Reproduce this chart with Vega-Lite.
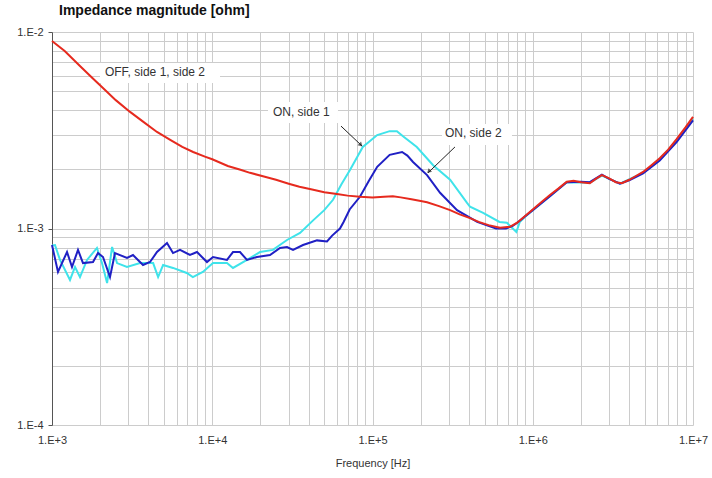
{
  "$schema": "https://vega.github.io/schema/vega-lite/v6.json",
  "width": 641,
  "height": 393,
  "autosize": {"type": "none"},
  "padding": {"left": 52, "top": 32, "right": 19, "bottom": 53},
  "config": {"view": {"stroke": null}, "font": "Liberation Sans"},
  "title": {"text": "Impedance magnitude [ohm]", "anchor": "start", "frame": "group", "dx": 7, "dy": 16, "offset": 13, "baseline": "alphabetic", "fontSize": 14, "fontWeight": "bold", "font": "Liberation Sans", "color": "#111"},
  "datasets": {
    "red": [
      {"f":1000,"z":0.0090},{"f":1200,"z":0.0080},{"f":1500,"z":0.0067},{"f":1800,"z":0.0058},{"f":2080,"z":0.00519},
      {"f":2500,"z":0.0045},{"f":3070,"z":0.00392},{"f":3700,"z":0.0035},{"f":4520,"z":0.0031},{"f":5500,"z":0.00282},
      {"f":6500,"z":0.0026},{"f":7600,"z":0.00245},{"f":9000,"z":0.00232},{"f":10000,"z":0.00225},{"f":12500,"z":0.00208},
      {"f":15000,"z":0.00199},{"f":17200,"z":0.00192},{"f":21000,"z":0.00184},{"f":25000,"z":0.00177},{"f":30000,"z":0.00169},
      {"f":35000,"z":0.00163},{"f":42000,"z":0.00158},{"f":50000,"z":0.00153},{"f":60000,"z":0.0015},{"f":70000,"z":0.00147},
      {"f":83500,"z":0.00145},{"f":100000,"z":0.00144},{"f":118000,"z":0.00145},{"f":134000,"z":0.00146},{"f":150000,"z":0.00144},
      {"f":175000,"z":0.00141},{"f":200000,"z":0.00138},{"f":219000,"z":0.00136},{"f":260000,"z":0.0013},{"f":305000,"z":0.00124},
      {"f":350000,"z":0.00118},{"f":406000,"z":0.00113},{"f":460000,"z":0.00108},{"f":530000,"z":0.00104},{"f":625000,"z":0.00101},
      {"f":720000,"z":0.00102},{"f":800000,"z":0.00107},{"f":900000,"z":0.00116},{"f":1000000,"z":0.00125},{"f":1130000,"z":0.00136},
      {"f":1280000,"z":0.00148},{"f":1450000,"z":0.0016},{"f":1630000,"z":0.00173},{"f":1800000,"z":0.00175},{"f":2000000,"z":0.00172},
      {"f":2270000,"z":0.0017},{"f":2500000,"z":0.0018},{"f":2700000,"z":0.00187},{"f":3000000,"z":0.0018},{"f":3300000,"z":0.00172},
      {"f":3600000,"z":0.0017},{"f":4000000,"z":0.00177},{"f":4400000,"z":0.00185},{"f":4880000,"z":0.00194},{"f":5500000,"z":0.0021},
      {"f":6200000,"z":0.00228},{"f":7000000,"z":0.00252},{"f":7900000,"z":0.00285},{"f":9000000,"z":0.00328},{"f":10000000,"z":0.0037}
    ],
    "blue": [
      {"f":1000,"z":0.000824},{"f":1090,"z":0.000601},{"f":1241,"z":0.000759},{"f":1333,"z":0.000637},{"f":1453,"z":0.000778},
      {"f":1561,"z":0.000667},{"f":1803,"z":0.000675},{"f":1936,"z":0.00075},{"f":2081,"z":0.000716},{"f":2301,"z":0.000566},
      {"f":2472,"z":0.00075},{"f":2937,"z":0.000708},{"f":3202,"z":0.000733},{"f":3698,"z":0.000652},{"f":4088,"z":0.000675},
      {"f":4520,"z":0.000759},{"f":5220,"z":0.000844},{"f":5690,"z":0.00075},{"f":6293,"z":0.000778},{"f":7262,"z":0.000733},
      {"f":8032,"z":0.000759},{"f":9270,"z":0.000675},{"f":10108,"z":0.000716},{"f":12360,"z":0.000692},{"f":13470,"z":0.000759},
      {"f":14900,"z":0.000759},{"f":16470,"z":0.000692},{"f":19010,"z":0.000716},{"f":22930,"z":0.000733},{"f":26470,"z":0.000796},
      {"f":29270,"z":0.000805},{"f":31920,"z":0.000778},{"f":36840,"z":0.000824},{"f":45050,"z":0.00087},{"f":52000,"z":0.00086},
      {"f":56000,"z":0.00092},{"f":62660,"z":0.001},{"f":66000,"z":0.00108},{"f":72000,"z":0.00125},{"f":83500,"z":0.00145},
      {"f":95000,"z":0.00175},{"f":107000,"z":0.00206},{"f":128000,"z":0.00237},{"f":153000,"z":0.00245},{"f":165000,"z":0.00235},
      {"f":179000,"z":0.00218},{"f":219000,"z":0.00187},{"f":264000,"z":0.00152},{"f":337000,"z":0.00124},{"f":450000,"z":0.00108},
      {"f":590000,"z":0.001},{"f":680000,"z":0.001},{"f":750000,"z":0.00103},{"f":800000,"z":0.00107},{"f":1000000,"z":0.00124},
      {"f":1280000,"z":0.00146},{"f":1630000,"z":0.00172},{"f":2000000,"z":0.00173},{"f":2270000,"z":0.00172},{"f":2700000,"z":0.00188},
      {"f":3000000,"z":0.00179},{"f":3500000,"z":0.00169},{"f":4000000,"z":0.00176},{"f":4880000,"z":0.00191},{"f":6200000,"z":0.00222},
      {"f":7900000,"z":0.00275},{"f":10000000,"z":0.00355}
    ],
    "cyan": [
      {"f":1000,"z":0.00082},{"f":1044,"z":0.000824},{"f":1122,"z":0.000692},{"f":1295,"z":0.000547},{"f":1392,"z":0.000637},
      {"f":1495,"z":0.000566},{"f":1654,"z":0.000692},{"f":1908,"z":0.000796},{"f":2051,"z":0.000667},{"f":2207,"z":0.000528},
      {"f":2371,"z":0.000805},{"f":2546,"z":0.000667},{"f":2937,"z":0.000637},{"f":3546,"z":0.000667},{"f":4277,"z":0.000667},
      {"f":4593,"z":0.000566},{"f":4935,"z":0.000652},{"f":5690,"z":0.00063},{"f":6935,"z":0.000594},{"f":7566,"z":0.000566},
      {"f":8737,"z":0.000601},{"f":10108,"z":0.000667},{"f":12360,"z":0.000667},{"f":13470,"z":0.00063},{"f":16470,"z":0.000692},
      {"f":19870,"z":0.000759},{"f":23920,"z":0.000778},{"f":29270,"z":0.000874},{"f":35300,"z":0.000949},{"f":42590,"z":0.0011},
      {"f":50000,"z":0.00124},{"f":56700,"z":0.0014},{"f":64000,"z":0.00168},{"f":72500,"z":0.00199},{"f":87000,"z":0.0026},
      {"f":107000,"z":0.00299},{"f":128000,"z":0.00313},{"f":142000,"z":0.00313},{"f":155000,"z":0.00295},{"f":189000,"z":0.0026},
      {"f":239000,"z":0.0021},{"f":305000,"z":0.00177},{"f":389000,"z":0.00135},{"f":406000,"z":0.00129},{"f":490000,"z":0.0012},
      {"f":620000,"z":0.00108},{"f":690000,"z":0.00107},{"f":790000,"z":0.00096},{"f":830000,"z":0.00108},{"f":900000,"z":0.00115},
      {"f":1000000,"z":0.00124},{"f":1280000,"z":0.00146},{"f":1630000,"z":0.00172},{"f":2270000,"z":0.00171},{"f":2700000,"z":0.00186},
      {"f":3500000,"z":0.00169},{"f":4880000,"z":0.00192},{"f":6200000,"z":0.00224},{"f":7900000,"z":0.0028},{"f":10000000,"z":0.0036}
    ]
  },
  "encoding": {
    "x": {"field": "f", "type": "quantitative",
      "scale": {"type": "log", "domain": [1000, 10000000], "nice": false},
      "axis": {
        "values": [1000,2000,3000,4000,5000,6000,7000,8000,9000,10000,20000,30000,40000,50000,60000,70000,80000,90000,100000,200000,300000,400000,500000,600000,700000,800000,900000,1000000,2000000,3000000,4000000,5000000,6000000,7000000,8000000,9000000,10000000],
        "labelExpr": "indexof([1000,10000,100000,1000000,10000000], datum.value) >= 0 ? '1.E' + (datum.value >= 1 ? '+' : '') + round(log(datum.value)/LN10) : ''",
        "title": "Frequency [Hz]", "titleFontSize": 11, "titleFontWeight": "normal", "titleColor": "#333", "titlePadding": 12,
        "grid": true, "gridColor": "#cccccc", "gridWidth": 1, "ticks": false, "domain": false,
        "labelPadding": 9, "labelFontSize": 11, "labelColor": "#333", "labelOverlap": false, "labelFlush": false
      }
    },
    "y": {"field": "z", "type": "quantitative",
      "scale": {"type": "log", "domain": [0.0001, 0.01], "nice": false},
      "axis": {
        "values": [0.0001,0.0002,0.0003,0.0004,0.0005,0.0006,0.0007,0.0008,0.0009,0.001,0.002,0.003,0.004,0.005,0.006,0.007,0.008,0.009,0.01],
        "labelExpr": "indexof([0.0001,0.001,0.01], datum.value) >= 0 ? '1.E' + round(log(datum.value)/LN10) : ''",
        "title": null, "grid": true, "gridColor": "#cccccc", "gridWidth": 1,
        "tickSize": 4, "tickColor": {"condition": {"test": "indexof([0.0001,0.001,0.01], datum.value) >= 0", "value": "#555"}, "value": "transparent"},
        "domainColor": "#555", "labelPadding": 5, "labelFontSize": 11, "labelColor": "#333", "labelOverlap": false, "labelFlush": false
      }
    }
  },
  "layer": [
    {"data": {"values": [
      {"f":1993,"f2":11180,"z":0.00695,"z2":0.0055},
      {"f":22280,"f2":60900,"z":0.0044,"z2":0.00344},
      {"f":271500,"f2":742000,"z":0.0034,"z2":0.00266}]},
     "mark": {"type": "rect", "fill": "white"},
     "encoding": {"x2": {"field": "f2"}, "y2": {"field": "z2"}}},
    {"data": {"name": "cyan"}, "mark": {"type": "line", "color": "#3fe3ea", "strokeWidth": 2}},
    {"data": {"name": "blue"}, "mark": {"type": "line", "color": "#2020c4", "strokeWidth": 2}},
    {"data": {"name": "red"}, "mark": {"type": "line", "color": "#e62a1e", "strokeWidth": 2}},
    {"data": {"values": [
      {"f":2140,"z":0.00626,"t":"OFF, side 1, side 2"},
      {"f":23900,"z":0.00392,"t":"ON, side 1"},
      {"f":283000,"z":0.00306,"t":"ON, side 2"}]},
     "mark": {"type": "text", "align": "left", "baseline": "middle", "fontSize": 12, "color": "#333"},
     "encoding": {"text": {"field": "t"}}},
    {"data": {"values": [
      {"f":63600,"z":0.00332,"f2":86000,"z2":0.00263},
      {"f":327000,"z":0.0026,"f2":222000,"z2":0.00192}]},
     "mark": {"type": "rule", "color": "#222", "strokeWidth": 1},
     "encoding": {"x2": {"field": "f2"}, "y2": {"field": "z2"}}},
    {"data": {"values": [{"f":84000,"z":0.00268}]},
     "mark": {"type": "point", "shape": "triangle", "angle": 134, "size": 25, "filled": true, "color": "#222"}},
    {"data": {"values": [{"f":226000,"z":0.00196}]},
     "mark": {"type": "point", "shape": "triangle", "angle": 226, "size": 25, "filled": true, "color": "#222"}}
  ]
}
